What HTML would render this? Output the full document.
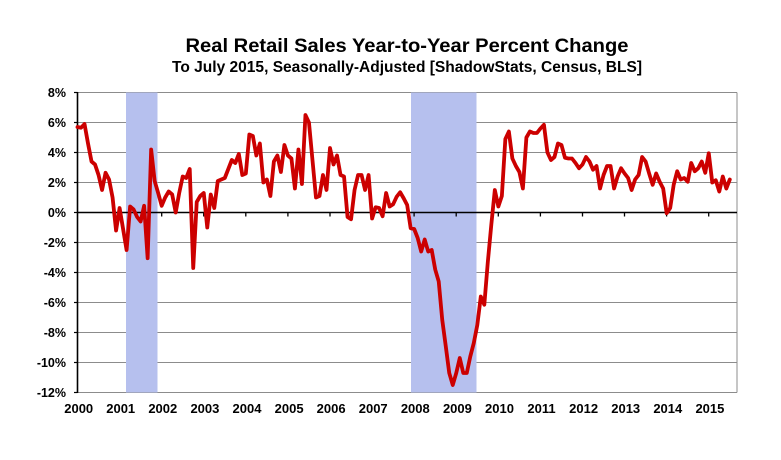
<!DOCTYPE html>
<html>
<head>
<meta charset="utf-8">
<style>
html,body{margin:0;padding:0;background:#fff;}
svg{display:block;}
text{font-family:"Liberation Sans",Arial,sans-serif;font-weight:bold;fill:#000;}
</style>
</head>
<body>
<svg width="781" height="460" viewBox="0 0 781 460" xmlns="http://www.w3.org/2000/svg">
<rect x="0" y="0" width="781" height="460" fill="#fff"/>
<!-- titles -->
<text x="407" y="52" font-size="19.5" text-anchor="middle" textLength="443" lengthAdjust="spacingAndGlyphs">Real Retail Sales Year-to-Year Percent Change</text>
<text x="407" y="72" font-size="15.5" text-anchor="middle" textLength="470" lengthAdjust="spacingAndGlyphs">To July 2015, Seasonally-Adjusted [ShadowStats, Census, BLS]</text>

<!-- gridlines -->
<g stroke="#8c8c8c" stroke-width="1" fill="none">
<line x1="77.5" y1="92.5" x2="737" y2="92.5"/>
<line x1="77.5" y1="122.5" x2="737" y2="122.5"/>
<line x1="77.5" y1="152.5" x2="737" y2="152.5"/>
<line x1="77.5" y1="182.5" x2="737" y2="182.5"/>
<line x1="77.5" y1="242.5" x2="737" y2="242.5"/>
<line x1="77.5" y1="272.5" x2="737" y2="272.5"/>
<line x1="77.5" y1="302.5" x2="737" y2="302.5"/>
<line x1="77.5" y1="332.5" x2="737" y2="332.5"/>
<line x1="77.5" y1="362.5" x2="737" y2="362.5"/>
<line x1="77.5" y1="392.5" x2="737" y2="392.5"/>
<line x1="737" y1="92.5" x2="737" y2="392.5"/>
</g>

<!-- recession shading -->
<rect x="126" y="92.5" width="31.5" height="300" fill="#b6c0ee"/>
<rect x="411" y="92.5" width="65.5" height="300" fill="#b6c0ee"/>

<!-- zero axis -->
<line x1="77.5" y1="212.5" x2="737" y2="212.5" stroke="#000" stroke-width="1.6"/>
<g stroke="#000" stroke-width="1.3">
<line x1="119.6" y1="212.5" x2="119.6" y2="216.5"/>
<line x1="161.7" y1="212.5" x2="161.7" y2="216.5"/>
<line x1="203.7" y1="212.5" x2="203.7" y2="216.5"/>
<line x1="245.8" y1="212.5" x2="245.8" y2="216.5"/>
<line x1="287.9" y1="212.5" x2="287.9" y2="216.5"/>
<line x1="330.0" y1="212.5" x2="330.0" y2="216.5"/>
<line x1="372.1" y1="212.5" x2="372.1" y2="216.5"/>
<line x1="414.1" y1="212.5" x2="414.1" y2="216.5"/>
<line x1="456.2" y1="212.5" x2="456.2" y2="216.5"/>
<line x1="498.3" y1="212.5" x2="498.3" y2="216.5"/>
<line x1="540.4" y1="212.5" x2="540.4" y2="216.5"/>
<line x1="582.5" y1="212.5" x2="582.5" y2="216.5"/>
<line x1="624.5" y1="212.5" x2="624.5" y2="216.5"/>
<line x1="666.6" y1="212.5" x2="666.6" y2="216.5"/>
<line x1="708.7" y1="212.5" x2="708.7" y2="216.5"/>
</g>

<!-- y axis -->
<line x1="77.5" y1="92" x2="77.5" y2="393" stroke="#000" stroke-width="1.6"/>
<g stroke="#000" stroke-width="1.2">
<line x1="74" y1="92.5" x2="77.5" y2="92.5"/>
<line x1="74" y1="122.5" x2="77.5" y2="122.5"/>
<line x1="74" y1="152.5" x2="77.5" y2="152.5"/>
<line x1="74" y1="182.5" x2="77.5" y2="182.5"/>
<line x1="74" y1="212.5" x2="77.5" y2="212.5"/>
<line x1="74" y1="242.5" x2="77.5" y2="242.5"/>
<line x1="74" y1="272.5" x2="77.5" y2="272.5"/>
<line x1="74" y1="302.5" x2="77.5" y2="302.5"/>
<line x1="74" y1="332.5" x2="77.5" y2="332.5"/>
<line x1="74" y1="362.5" x2="77.5" y2="362.5"/>
<line x1="74" y1="392.5" x2="77.5" y2="392.5"/>
</g>

<!-- y labels -->
<g font-size="12.5" text-anchor="end">
<text x="66" y="97">8%</text>
<text x="66" y="127">6%</text>
<text x="66" y="157">4%</text>
<text x="66" y="187">2%</text>
<text x="66" y="217">0%</text>
<text x="66" y="247">-2%</text>
<text x="66" y="277">-4%</text>
<text x="66" y="307">-6%</text>
<text x="66" y="337">-8%</text>
<text x="66" y="367">-10%</text>
<text x="66" y="397">-12%</text>
</g>

<!-- x labels -->
<g font-size="13" text-anchor="middle">
<text x="78.7" y="413">2000</text>
<text x="120.7" y="413">2001</text>
<text x="162.8" y="413">2002</text>
<text x="204.9" y="413">2003</text>
<text x="247.0" y="413">2004</text>
<text x="289.1" y="413">2005</text>
<text x="331.1" y="413">2006</text>
<text x="373.2" y="413">2007</text>
<text x="415.3" y="413">2008</text>
<text x="457.4" y="413">2009</text>
<text x="499.5" y="413">2010</text>
<text x="541.5" y="413">2011</text>
<text x="583.6" y="413">2012</text>
<text x="625.7" y="413">2013</text>
<text x="667.8" y="413">2014</text>
<text x="709.9" y="413">2015</text>
</g>

<!-- data series -->
<g transform="matrix(3.507,0,0,15,77.5,212.5)">
<polyline fill="none" stroke="#cc0000" stroke-width="3.8" stroke-linejoin="round" stroke-linecap="round" vector-effect="non-scaling-stroke"
points="0,-5.7 1,-5.65 2,-5.9 3,-4.6 4,-3.4 5,-3.2 6,-2.5 7,-1.5 8,-2.65 9,-2.2 10,-1.0 11,1.2 12,-0.3 13,1.1 14,2.5 15,-0.4 16,-0.2 17,0.3 18,0.6 19,-0.45 20,3.05 21,-4.2 22,-2.1 23,-1.3 24,-0.45 25,-1.0 26,-1.4 27,-1.2 28,0 29,-1.3 30,-2.4 31,-2.3 32,-2.9 33,3.7 34,-0.7 35,-1.1 36,-1.3 37,1.0 38,-1.2 39,-0.3 40,-2.1 41,-2.2 42,-2.3 43,-2.9 44,-3.5 45,-3.3 46,-3.9 47,-2.5 48,-2.6 49,-5.2 50,-5.1 51,-3.8 52,-4.6 53,-2.0 54,-2.2 55,-1.1 56,-3.4 57,-3.8 58,-2.7 59,-4.5 60,-3.8 61,-3.6 62,-1.6 63,-4.2 64,-1.9 65,-6.5 66,-6.0 67,-3.5 68,-1.0 69,-1.1 70,-2.5 71,-1.5 72,-4.3 73,-3.2 74,-3.8 75,-2.5 76,-2.4 77,0.3 78,0.45 79,-1.5 80,-2.5 81,-2.5 82,-1.5 83,-2.5 84,0.4 85,-0.35 86,-0.3 87,0.25 88,-1.3 89,-0.4 90,-0.55 91,-1.05 92,-1.35 93,-0.95 94,-0.5 95,1.05 96,1.1 97,1.7 98,2.6 99,1.8 100,2.6 101,2.5 102,3.8 103,4.6 104,7.15 105,8.9 106,10.7 107,11.5 108,10.7 109,9.7 110,10.7 111,10.7 112,9.6 113,8.7 114,7.5 115,5.6 116,6.15 117,3.3 118,0.8 119,-1.5 120,-0.4 121,-1.1 122,-4.9 123,-5.4 124,-3.6 125,-3.1 126,-2.7 127,-1.6 128,-5.0 129,-5.4 130,-5.3 131,-5.3 132,-5.6 133,-5.85 134,-4.0 135,-3.5 136,-3.7 137,-4.6 138,-4.5 139,-3.65 140,-3.6 141,-3.6 142,-3.3 143,-2.95 144,-3.2 145,-3.7 146,-3.4 147,-2.85 148,-3.1 149,-1.6 150,-2.5 151,-3.1 152,-3.1 153,-1.6 154,-2.4 155,-2.95 156,-2.6 157,-2.3 158,-1.5 159,-2.2 160,-2.5 161,-3.7 162,-3.4 163,-2.6 164,-1.85 165,-2.6 166,-2.05 167,-1.6 168,0.05 169,-0.3 170,-1.85 171,-2.75 172,-2.2 173,-2.3 174,-2.05 175,-3.3 176,-2.75 177,-2.95 178,-3.4 179,-2.65 180,-3.95 181,-2.0 182,-2.15 183,-1.4 184,-2.4 185,-1.6 186,-2.2"/>
</g>
</svg>
</body>
</html>
